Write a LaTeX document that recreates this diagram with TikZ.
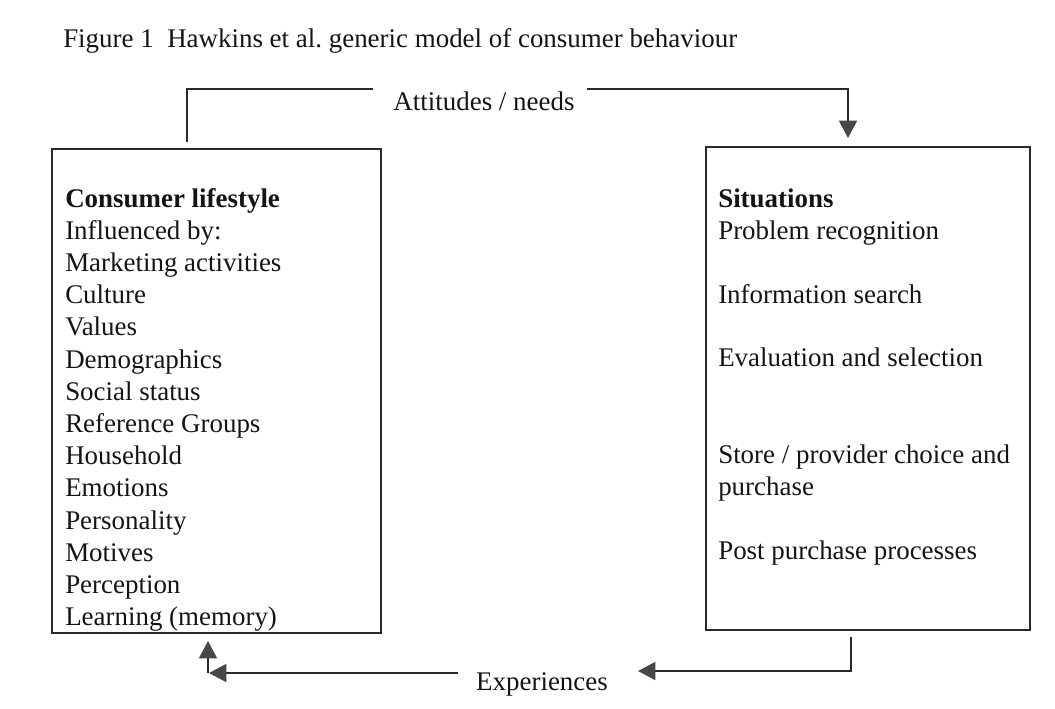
\documentclass[tikz,border=0pt]{standalone}
\usepackage{fontspec}
\setmainfont{Liberation Serif}
\usetikzlibrary{arrows.meta}
\frenchspacing
\definecolor{inkc}{HTML}{141414}
\definecolor{linec}{HTML}{2A2A2A}
\definecolor{tipc}{HTML}{474747}
\begin{document}
\begin{tikzpicture}[x=0.75pt,y=-0.75pt,
  every node/.style={font=\fontsize{20.2}{24}\selectfont, text=inkc},
  txt/.style={anchor=base west, inner sep=0pt},
  lbl/.style={anchor=base, inner sep=0pt},
  boxc/.style={draw=linec, line width=1.4pt, rectangle, inner sep=0pt},
  conn/.style={draw=linec, line width=1.3pt},
  arr/.style={conn, -{Triangle[width=13.5pt,length=13pt,color=tipc]}}
]
\useasboundingbox (0,0) rectangle (1055,708);

% title
\node[txt] (title) at (63,47) {Figure 1\hspace{0.5em}Hawkins et al. generic model of consumer behaviour};

% boxes
\node[boxc, minimum width=246.75pt, minimum height=363pt] (L) at (216.5,391) {};
\node[boxc, minimum width=243pt, minimum height=362.25pt] (R) at (868,388.5) {};

% left box text
\node[txt] (l0) at (65,207) {\textbf{Consumer lifestyle}};
\node[txt] (l1) at (65,239.2) {Influenced by:};
\node[txt] (l2) at (65,271.4) {Marketing activities};
\node[txt] (l3) at (65,303.6) {Culture};
\node[txt] (l4) at (65,335.8) {Values};
\node[txt] (l5) at (65,368) {Demographics};
\node[txt] (l6) at (65,400.2) {Social status};
\node[txt] (l7) at (65,432.4) {Reference Groups};
\node[txt] (l8) at (65,464.6) {Household};
\node[txt] (l9) at (65,496.8) {Emotions};
\node[txt] (l10) at (65,529) {Personality};
\node[txt] (l11) at (65,561.2) {Motives};
\node[txt] (l12) at (65,593.4) {Perception};
\node[txt] (l13) at (65,625.6) {Learning (memory)};

% right box text
\node[txt] (r0) at (718,207) {\textbf{Situations}};
\node[txt] (r1) at (718,239) {Problem recognition};
\node[txt] (r2) at (718,303) {Information search};
\node[txt] (r3) at (718,366) {Evaluation and selection};
\node[txt] (r4) at (718,463) {Store / provider choice and};
\node[txt] (r5) at (718,495) {purchase};
\node[txt] (r6) at (718,559) {Post purchase processes};

% connector labels
\node[lbl] (att) at (484,110) {Attitudes / needs};
\node[lbl] (exp) at (542,690) {Experiences};

% connector coordinates
\coordinate (t0) at (187,142);
\coordinate (t1) at (373,89);
\coordinate (t2) at (587,89);
\coordinate (t3) at (848,138);
\coordinate (b0) at (851,637);
\coordinate (b1) at (638,671);
\coordinate (b2) at (458,673);
\coordinate (b3) at (209,673);
\coordinate (b4) at (208,641);

% top connector
\draw[conn] (t0) |- (t1);
\draw[arr] (t2) -| (t3);

% bottom connector
\draw[arr] (b0) |- (b1);
\draw[arr] (b2) -- (b3);
\draw[arr] (b3 -| b4) -- (b4);
\end{tikzpicture}
\end{document}
